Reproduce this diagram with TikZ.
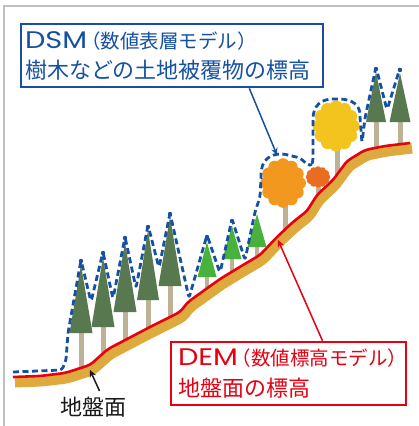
\documentclass[tikz,border=0pt]{standalone}
\usepackage{fontspec}
\usepackage{graphicx}
\setmainfont{Noto Sans CJK JP}
\newfontfamily\latinfont{Poppins}
\usetikzlibrary{arrows.meta}

\definecolor{dsmblue}{RGB}{22,80,160}
\definecolor{demred}{RGB}{230,0,18}
\definecolor{soil}{RGB}{222,170,62}
\definecolor{pinedark}{RGB}{88,121,80}
\definecolor{pinelight}{RGB}{72,178,60}
\definecolor{bark}{RGB}{190,178,150}
\definecolor{leaforange}{RGB}{243,152,30}
\definecolor{leafred}{RGB}{233,108,32}
\definecolor{leafyellow}{RGB}{243,196,30}
\definecolor{framegray}{RGB}{190,190,190}

\newcommand\pine[5]{\fill[#5] (#1,#2) -- ({#1+#3},#4) -- ({#1-#3},#4) -- cycle;}
\newcommand\crown[5]{%
  \foreach \a in {0,30,...,330}{%
    \pgfmathsetmacro\bx{#1+0.74*#3*cos(\a)}%
    \pgfmathsetmacro\by{#2+0.74*#4*sin(\a)}%
    \fill[#5] (\bx,\by) circle[radius={0.28*#3}];}
  \fill[#5] (#1,#2) ellipse[x radius={0.8*#3}, y radius={0.8*#4}];}
\newcommand\modelname[2]{{\latinfont\fontsize{24pt}{30pt}\selectfont\scalebox{1.2}[1]{#1}}{\fontsize{19.5pt}{30pt}\selectfont\kern-6pt（#2）}}

\def\groundline{(13,377) -- (40,376) -- (65,373) -- (90,365) -- (108,349) -- (150,327) -- (180,312) -- (188,302) -- (220,279) -- (243,265) -- (260,255) -- (277,237) -- (293,222) -- (307,211) -- (317,195) -- (333,180) -- (347,161) -- (365,150) -- (385,146) -- (410,143)}

\begin{document}
\begin{tikzpicture}[x=1pt, y=-1pt,
    labelbox/.style={draw, line width=2.6pt, fill=white, align=left, font=\fontsize{22pt}{30pt}\selectfont},
    link/.style={-{Stealth[length=7pt, width=6.5pt]}, line width=1.5pt},
    trunk/.style={bark, line width=5pt},
    surface/.style={dsmblue, line width=2.8pt, dash pattern=on 6pt off 3.5pt, rounded corners=3pt, line join=round}
]
\useasboundingbox (0,0) rectangle (419,426);
\draw[framegray, line width=1.5pt] (4,426) -- (4,6) -- (419,6);

% trunks
\foreach \x/\top/\bot in {81/333/368, 103/327/358, 125/312/343, 148/300/331, 170/286/320, 285/200/232, 318/180/195, 337/140/175, 376/122/149, 400/122/146}
  \draw[trunk] (\x,\top) -- (\x,\bot);
\foreach \x/\top/\bot in {207/277/291, 232/259/275, 257/247/260}
  \draw[trunk, line width=4.5pt] (\x,\top) -- (\x,\bot);

% ground
\begin{scope}[shift={(2,5)}]
  \draw[soil, line width=11pt, rounded corners=4pt] \groundline;
\end{scope}
\draw[demred, line width=2.6pt, rounded corners=4pt] \groundline;

% trees
\pine{81}{265}{11.5}{333}{pinedark}
\pine{103}{257}{11.5}{327}{pinedark}
\pine{125}{242}{11.5}{312}{pinedark}
\pine{148}{230}{11}{300}{pinedark}
\pine{170}{217}{11.5}{286}{pinedark}
\pine{207}{242}{9.5}{277}{pinelight}
\pine{232}{226}{9.5}{259}{pinelight}
\pine{257}{214}{9.5}{247}{pinelight}
\pine{376}{72}{10}{122}{pinedark}
\pine{400}{73}{10.5}{122}{pinedark}
\crown{283}{183}{22.5}{25}{leaforange}
\crown{318}{177}{12}{10}{leafred}
\crown{336}{126}{23}{26}{leafyellow}

% surface model outline
\draw[surface] (13,372) -- (62,370) -- (66,360) -- (68,333) -- (81,260) -- (91,302) -- (103,252) -- (113,299)
  -- (125,237) -- (136,288) -- (148,225) -- (159,268) -- (170,213) -- (189,298) -- (207,235) -- (220,273)
  -- (232,219) -- (245,260) -- (255,212) -- (260,197) -- (261,178) .. controls (261,160) and (270,154) .. (284,154)
  -- (300,158) -- (308,165) -- (312,165) -- (313,160) -- (313,122) .. controls (313,105) and (322,99) .. (336,99)
  .. controls (352,99) and (360,105) .. (360,118) -- (362,143) -- (365,118) -- (376,67) -- (387,110) -- (400,68);
\foreach \x/\y in {81/261, 103/253, 125/238, 148/227, 170/214, 207/237, 232/221, 376/69, 400/70}
  \fill[dsmblue] (\x,\y) circle[radius=2.2];

% labels
\node[labelbox, draw=dsmblue, text=dsmblue, text width=294pt, inner xsep=4pt, minimum height=63pt] (dsm) at (172,55.5)
  {\modelname{DSM}{数値表層モデル}\\樹木などの土地被覆物の標高};
\node[labelbox, draw=demred, text=demred, text width=221pt, inner xsep=7pt, minimum height=63pt,
  font=\fontsize{22pt}{31pt}\selectfont] (dem) at (288.5,373.5)
  {\modelname{DEM}{数値標高モデル}\\地盤面の標高};
\node[anchor=base, font=\fontsize{22pt}{26pt}\selectfont, text=black!90] (ground) at (93.5,415) {地盤面};

\coordinate (dsmtip) at (277,155);
\coordinate (demtip) at (278,240);
\coordinate (groundtip) at (90,370);
\draw[link, dsmblue] (dsm.-23.5) -- (dsmtip);
\draw[link, demred] (dem.44) -- (demtip);
\draw[link, black!90] ([xshift=6pt, yshift=2pt]ground.north) -- (groundtip);
\end{tikzpicture}
\end{document}
